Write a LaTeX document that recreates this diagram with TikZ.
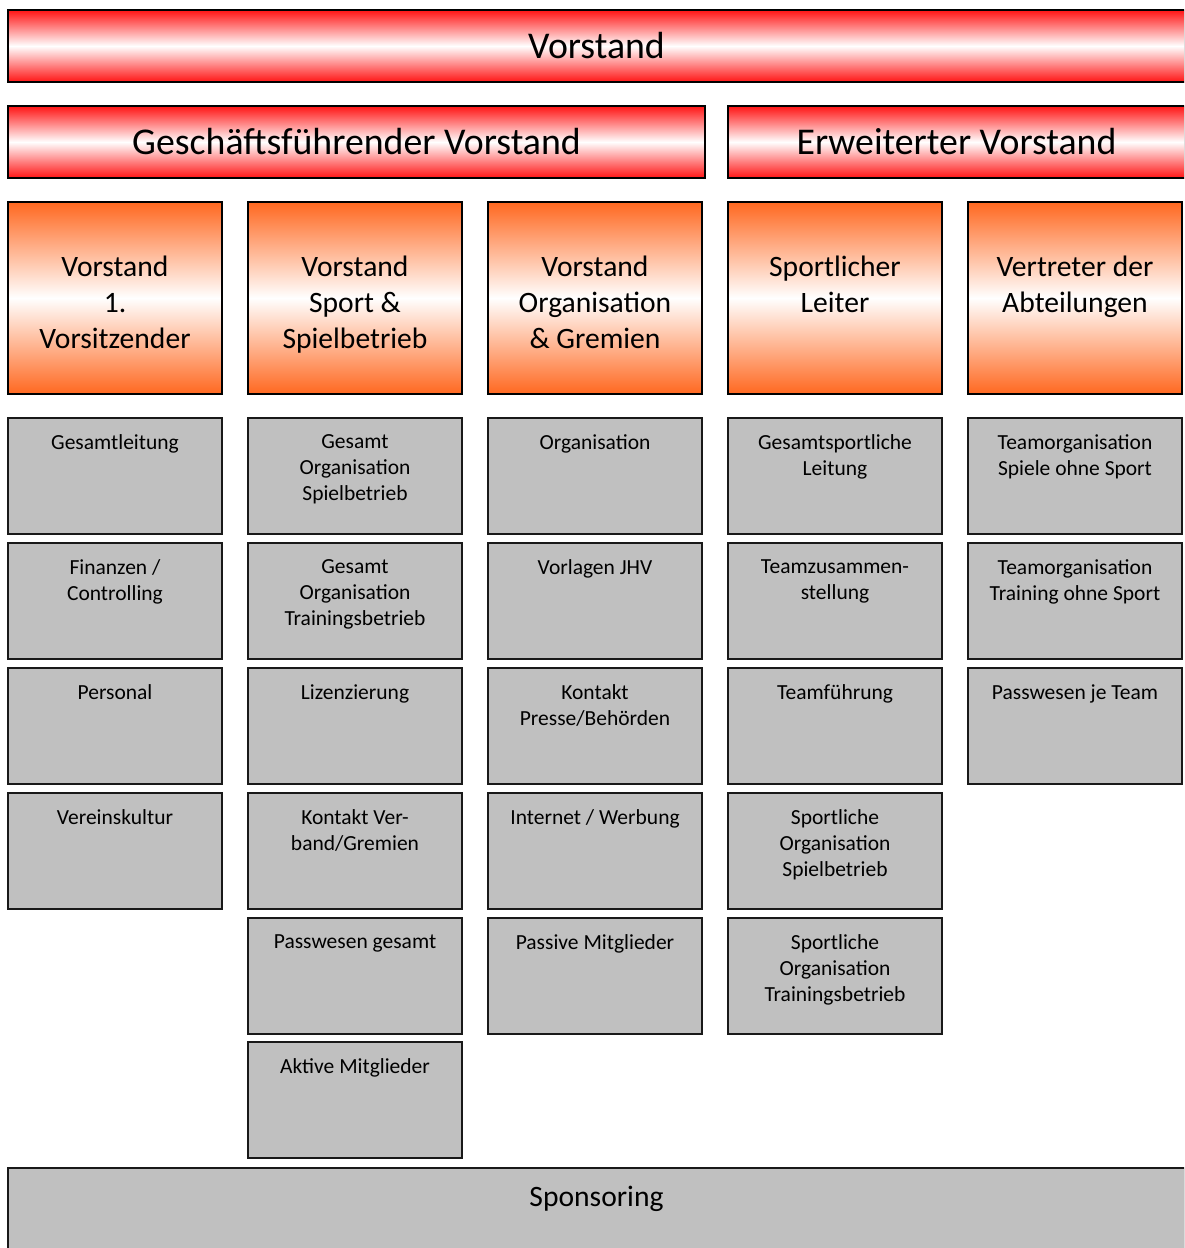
\documentclass[tikz,border=0pt]{standalone}
\usepackage{fontspec}
\setmainfont{Carlito}
\usepackage{tikz}

\definecolor{barred}{RGB}{255,20,20}
\definecolor{headorange}{RGB}{255,104,32}
\definecolor{cellgray}{RGB}{192,192,192}

\tikzset{
  bar/.style={draw=black, line width=2.4pt, top color=barred, bottom color=barred,
    middle color=white, minimum height=72pt, inner sep=0pt,
    font=\fontsize{37.8}{44}\selectfont},
  head/.style={draw=black, line width=1.6pt, top color=headorange, bottom color=headorange,
    middle color=white, minimum width=214pt, minimum height=192pt, inner sep=0pt,
    label={[anchor=north, yshift=-55pt, inner sep=0pt, align=center,
      font=\fontsize{29.6}{36}\selectfont]north:#1}},
  cell/.style={draw=black!90, line width=1.6pt, fill=cellgray, minimum width=214pt,
    minimum height=116pt, inner sep=0pt,
    label={[anchor=north, yshift=-17pt, inner sep=0pt, align=center,
      font=\fontsize{21.5}{26}\selectfont]north:#1}},
  base/.style={draw=black!90, line width=1.6pt, fill=cellgray, minimum width=1177pt,
    minimum height=116pt, inner sep=0pt,
    label={[anchor=north, yshift=-19pt, inner sep=0pt,
      font=\fontsize{29.6}{36}\selectfont]north:#1}}
}

\begin{document}
\begin{tikzpicture}[x=1pt, y=-1pt]
 \useasboundingbox (0,0) rectangle (1184,1248);
 \clip (0,0) rectangle (1184,1248);

 % Vorstand
 \node[bar, minimum width=1177pt] (vorstand) at (596.5,46) {Vorstand};
 \node[bar, minimum width=697pt] (gfv) at (356.5,142) {Geschäftsführender Vorstand};
 \node[bar, minimum width=457pt] (ev) at (956.5,142) {Erweiterter Vorstand};

 % Ressorts
 \node[head={Vorstand\\1.\\Vorsitzender}] (vors) at (115,298) {};
 \node[head={Vorstand\\Sport \&\\Spielbetrieb}] (sport) at (355,298) {};
 \node[head={Vorstand\\Organisation\\\& Gremien}] (orga) at (595,298) {};
 \node[head={Sportlicher\\Leiter}] (sl) at (835,298) {};
 \node[head={Vertreter der\\Abteilungen}] (abt) at (1075,298) {};

 % Aufgaben 1. Vorsitzender
 \node[cell={Gesamtleitung}] (vors1) at (115,476) {};
 \node[cell={Finanzen /\\Controlling}] (vors2) at (115,601) {};
 \node[cell={Personal}] (vors3) at (115,726) {};
 \node[cell={Vereinskultur}] (vors4) at (115,851) {};

 % Aufgaben Sport & Spielbetrieb
 \node[cell={Gesamt\\Organisation\\Spielbetrieb}] (sport1) at (355,476) {};
 \node[cell={Gesamt\\Organisation\\Trainingsbetrieb}] (sport2) at (355,601) {};
 \node[cell={Lizenzierung}] (sport3) at (355,726) {};
 \node[cell={Kontakt Ver-\\band/Gremien}] (sport4) at (355,851) {};
 \node[cell={Passwesen gesamt}] (sport5) at (355,976) {};
 \node[cell={Aktive Mitglieder}] (sport6) at (355,1100) {};

 % Aufgaben Organisation & Gremien
 \node[cell={Organisation}] (orga1) at (595,476) {};
 \node[cell={Vorlagen JHV}] (orga2) at (595,601) {};
 \node[cell={Kontakt\\Presse/Behörden}] (orga3) at (595,726) {};
 \node[cell={Internet / Werbung}] (orga4) at (595,851) {};
 \node[cell={Passive Mitglieder}] (orga5) at (595,976) {};

 % Aufgaben Sportlicher Leiter
 \node[cell={Gesamtsportliche\\Leitung}] (sl1) at (835,476) {};
 \node[cell={Teamzusammen-\\stellung}] (sl2) at (835,601) {};
 \node[cell={Teamführung}] (sl3) at (835,726) {};
 \node[cell={Sportliche\\Organisation\\Spielbetrieb}] (sl4) at (835,851) {};
 \node[cell={Sportliche\\Organisation\\Trainingsbetrieb}] (sl5) at (835,976) {};

 % Aufgaben Abteilungen
 \node[cell={Teamorganisation\\Spiele ohne Sport}] (abt1) at (1075,476) {};
 \node[cell={Teamorganisation\\Training ohne Sport}] (abt2) at (1075,601) {};
 \node[cell={Passwesen je Team}] (abt3) at (1075,726) {};

 % Sponsoring
 \node[base={Sponsoring}] (spons) at (596.5,1226) {};

\end{tikzpicture}
\end{document}
